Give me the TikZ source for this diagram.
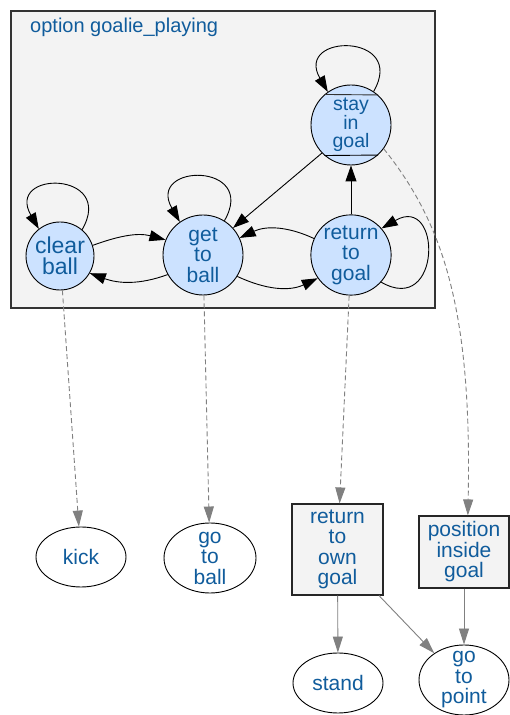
\documentclass[tikz,border=0pt]{standalone}
\usepackage{fontspec}
\setmainfont{Liberation Sans}
\usetikzlibrary{arrows.meta,shapes.geometric}

\definecolor{labelblue}{RGB}{16,92,156}
\definecolor{statefill}{RGB}{204,226,255}
\definecolor{clusterfill}{RGB}{243,243,243}
\definecolor{edgegrey}{RGB}{128,128,128}

\tikzset{
  txt/.style={text=labelblue, align=center, font=\fontsize{21}{20.5}\selectfont},
  state/.style={txt, circle, draw=black, fill=statefill, line width=0.9pt,
    inner sep=0pt, minimum size=80pt},
  optionbox/.style={txt, rectangle, draw=black!85, fill=clusterfill,
    line width=1.1pt, inner sep=0pt},
  leaf/.style={txt, ellipse, draw=black, fill=white, line width=0.9pt,
    inner sep=-10pt},
  trans/.style={draw=black, line width=0.9pt,
    -{Triangle[length=16pt,width=11pt]}},
  calls/.style={draw=edgegrey, line width=0.9pt, dash pattern=on 5pt off 3pt,
    -{Triangle[length=16pt,width=10pt]}},
  sub/.style={draw=edgegrey, line width=0.9pt,
    -{Triangle[length=16pt,width=10pt]}},
}

\begin{document}
\begin{tikzpicture}[x=1pt,y=1pt]
  \useasboundingbox (0,0) rectangle (510,715);
  \fill[white] (0,0) rectangle (510,715);

  % option cluster
  \draw[draw=black!80, fill=clusterfill, line width=1.1pt]
    (11,407) rectangle (435,704);
  \node[txt, anchor=base west, inner sep=0pt,
        font=\fontsize{20}{20}\selectfont] (title) at (30,682)
    {option goalie\_playing};

  % states
  \node[state, minimum size=68pt, font=\fontsize{23}{21}\selectfont]
    (cb) at (60,459) {clear\\ball};
  \node[state] (gb) at (203,460) {get\\to\\ball};
  \node[state] (rg) at (351,460) {return\\to\\goal};
  \node[state, font=\fontsize{19.5}{18}\selectfont]
    (sg) at (351,590) {stay\\in\\goal};
  \draw[line width=0.9pt, draw=black!80] (sg.48.6) -- (sg.131.4);
  \draw[line width=0.9pt] (sg.-48.6) -- (sg.-131.4);

  % called options and skills
  \node[optionbox, minimum width=91pt, minimum height=91pt]
    (rog) at (337.5,165.5) {return\\to\\own\\goal};
  \node[optionbox, minimum width=90pt, minimum height=72pt]
    (pig) at (464,163) {position\\inside\\goal};
  \node[leaf, minimum width=90pt, minimum height=60pt]
    (kick) at (81,158) {kick};
  \node[leaf, minimum width=92pt, minimum height=70pt]
    (gob) at (210,157) {go\\to\\ball};
  \node[leaf, minimum width=90pt, minimum height=60pt]
    (stand) at (338,32) {stand};
  \node[leaf, minimum width=90pt, minimum height=70pt]
    (gtp) at (464,35) {go\\to\\point};

  % transitions
  \draw[trans] (cb.18) to[out=20,in=165] (gb.158);
  \draw[trans] (gb.209) to[out=200,in=-20] (cb.-30);
  \draw[trans] (rg.156) to[out=155,in=25] (gb.25);
  \draw[trans] (gb.-32) to[out=-25,in=205] (rg.215);
  \draw[trans] (rg.north) -- (sg.south);
  \draw[trans] (sg.224) -- (gb.42);

  % self loops
  \draw[trans] (sg.56) .. controls +(60:68) and +(120:68) .. (sg.125);
  \draw[trans] (cb.50) .. controls +(60:68) and +(120:68) .. (cb.128);
  \draw[trans] (gb.58) .. controls +(60:68) and +(120:68) .. (gb.125);
  \draw[trans] (rg.-42) .. controls +(-30:70) and +(30:70) .. (rg.41);

  % state actions
  \draw[calls] (cb) -- (kick);
  \draw[calls] (gb) -- (gob);
  \draw[calls] (rg) -- (rog);
  \draw[calls] (sg.-36) .. controls (445,490) and (472,401) .. (pig.84);

  % sub-option calls
  \draw[sub] (rog) -- (stand);
  \draw[sub] (rog.-48) -- (gtp.138);
  \draw[sub] (pig) -- (gtp);
\end{tikzpicture}
\end{document}
